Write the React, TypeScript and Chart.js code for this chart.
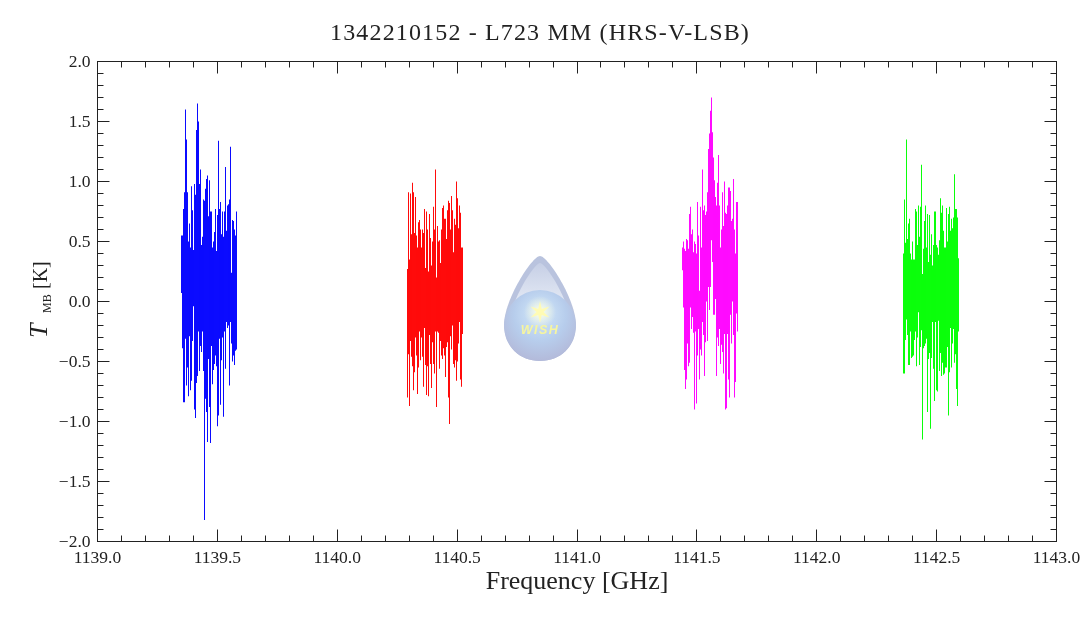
import { useEffect, useRef } from "react";
import { Chart, registerables } from "chart.js";

Chart.register(...registerables);

const chartTitle = "1342210152 - L723 MM (HRS-V-LSB)";
const xTitle = "Frequency [GHz]";
const xTickLabels = ["1139.0", "1139.5", "1140.0", "1140.5", "1141.0", "1141.5", "1142.0", "1142.5", "1143.0"];
const yTickLabels = ["2.0", "1.5", "1.0", "0.5", "0.0", "−0.5", "−1.0", "−1.5", "−2.0"];

// min/max of the spectrum in each plotted channel, in K
const blueFreq = [1139.35036, 1139.35454, 1139.35871, 1139.36288, 1139.36705, 1139.37122, 1139.37539, 1139.37956, 1139.38373, 1139.3879, 1139.39208, 1139.39625, 1139.40042, 1139.40459, 1139.40876, 1139.41293, 1139.4171, 1139.42127, 1139.42544, 1139.42961, 1139.43379, 1139.43796, 1139.44213, 1139.4463, 1139.45047, 1139.45464, 1139.45881, 1139.46298, 1139.46715, 1139.47132, 1139.4755, 1139.47967, 1139.48384, 1139.48801, 1139.49218, 1139.49635, 1139.50052, 1139.50469, 1139.50886, 1139.51303, 1139.51721, 1139.52138, 1139.52555, 1139.52972, 1139.53389, 1139.53806, 1139.54223, 1139.5464, 1139.55057, 1139.55474, 1139.55892, 1139.56309, 1139.56726, 1139.57143, 1139.5756, 1139.57977];
const blueHigh = [0.55, 0.55, 0.77, 0.91, 1.6, 1.35, 0.91, 0.5, 0.65, 0.45, 0.96, 0.76, 0.43, 0.98, 0.89, 1.43, 1.65, 1.5, 0.98, 1.1, 0.47, 0.54, 0.85, 0.84, 0.94, 1.02, 1.05, 0.71, 1.01, 0.75, 0.75, 0.45, 0.5, 0.58, 0.77, 0.42, 0.72, 1.34, 0.77, 0.83, 0.56, 0.75, 0.54, 0.75, 1.12, 0.59, 0.8, 0.81, 0.85, 1.29, 0.24, 0.68, 0.67, 0.6, 0.55, 0.75];
const blueLow = [0.07, -0.39, -0.84, -0.84, -0.31, -0.7, -0.55, -0.79, -0.29, -0.74, -0.66, -0.33, -0.04, -0.9, -0.97, -0.68, -0.62, -0.25, -0.58, -0.37, -0.42, -0.25, -0.58, -1.82, -0.81, -0.92, -1.17, -0.48, -0.88, -1.18, -0.37, -0.69, -0.57, -0.52, -0.45, -0.54, -1.04, -0.95, -0.31, -0.86, -0.49, -0.3, -0.96, -0.25, -0.56, -0.17, -0.22, -0.2, -0.7, -0.17, -0.35, -0.5, -0.45, -0.53, -0.41, -0.4];

const redFreq = [1140.29301, 1140.29718, 1140.30136, 1140.30553, 1140.3097, 1140.31387, 1140.31804, 1140.32221, 1140.32638, 1140.33055, 1140.33472, 1140.33889, 1140.34307, 1140.34724, 1140.35141, 1140.35558, 1140.35975, 1140.36392, 1140.36809, 1140.37226, 1140.37643, 1140.3806, 1140.38478, 1140.38895, 1140.39312, 1140.39729, 1140.40146, 1140.40563, 1140.4098, 1140.41397, 1140.41814, 1140.42231, 1140.42649, 1140.43066, 1140.43483, 1140.439, 1140.44317, 1140.44734, 1140.45151, 1140.45568, 1140.45985, 1140.46402, 1140.4682, 1140.47237, 1140.47654, 1140.48071, 1140.48488, 1140.48905, 1140.49322, 1140.49739, 1140.50156, 1140.50573, 1140.50991, 1140.51408, 1140.51825, 1140.52242];
const redHigh = [0.27, 0.91, 0.35, 0.9, 0.56, 0.99, 0.91, 0.57, 0.87, 0.55, 0.45, 0.66, 0.68, 0.6, 0.45, 0.6, 0.57, 0.77, 0.28, 0.75, 0.6, 0.25, 0.73, 0.53, 0.3, 0.5, 0.79, 0.6, 1.1, 0.2, 0.63, 0.5, 0.51, 0.32, 0.6, 0.78, 0.8, 0.69, 0.69, 0.52, 0.76, 0.84, 0.82, 0.6, 0.88, 0.76, 0.41, 0.69, 0.64, 1.0, 0.86, 0.61, 0.8, 0.74, 0.45, 0.45];
const redLow = [-0.8, -0.44, -0.87, -0.33, -0.46, -0.54, -0.74, -0.59, -0.3, -0.45, -0.77, -0.55, -0.25, -0.49, -0.3, -0.46, -0.71, -0.22, -0.53, -0.78, -0.54, -0.79, -0.28, -0.52, -0.72, -0.34, -0.52, -0.6, -0.25, -0.88, -0.25, -0.26, -0.56, -0.33, -0.45, -0.48, -0.39, -0.45, -0.63, -0.38, -0.34, -0.8, -1.02, -0.29, -0.4, -0.2, -0.52, -0.55, -0.49, -0.66, -0.5, -0.35, -0.17, -0.65, -0.71, -0.27];

const magentaFreq = [1141.44004, 1141.44421, 1141.44838, 1141.45255, 1141.45672, 1141.4609, 1141.46507, 1141.46924, 1141.47341, 1141.47758, 1141.48175, 1141.48592, 1141.49009, 1141.49426, 1141.49844, 1141.50261, 1141.50678, 1141.51095, 1141.51512, 1141.51929, 1141.52346, 1141.52763, 1141.5318, 1141.53597, 1141.54015, 1141.54432, 1141.54849, 1141.55266, 1141.55683, 1141.561, 1141.56517, 1141.56934, 1141.57351, 1141.57769, 1141.58186, 1141.58603, 1141.5902, 1141.59437, 1141.59854, 1141.60271, 1141.60688, 1141.61105, 1141.61522, 1141.6194, 1141.62357, 1141.62774, 1141.63191, 1141.63608, 1141.64025, 1141.64442, 1141.64859, 1141.65276, 1141.65693, 1141.66111, 1141.66528, 1141.66945];
const magentaHigh = [0.45, 0.5, 0.44, 0.42, 0.52, 0.51, 0.44, 0.73, 0.79, 0.56, 0.6, 0.41, 0.5, 0.48, 0.4, 0.83, 0.55, 0.09, 0.79, 0.45, 1.1, 0.76, 0.8, 0.72, 0.75, 0.91, 1.27, 1.4, 1.59, 1.7, 1.41, 1.2, 1.01, 0.87, 0.8, 0.99, 1.22, 0.8, 0.45, 0.6, 0.91, 0.63, 1.0, 0.74, 0.73, 0.8, 0.95, 0.95, 0.92, 0.67, 0.69, 1.02, 0.6, 0.4, 0.83, 0.83];
const magentaLow = [0.26, -0.05, -0.57, -0.73, -0.65, -0.35, -0.54, -0.51, -0.05, -0.23, -0.13, -0.26, -0.9, -0.25, -0.85, -0.45, -0.23, -0.65, -0.4, -0.45, -0.17, -0.28, -0.62, -0.34, 0.0, -0.33, 0.12, -0.07, 0.12, 0.51, 0.33, -0.11, -0.11, 0.02, -0.62, -0.3, -0.37, -0.23, -0.52, -0.36, -0.42, -0.6, -0.27, -0.9, -0.89, -0.27, -0.65, -0.8, -0.11, -0.35, 0.0, -0.28, -0.8, -0.67, -0.1, -0.25];

const greenFreq = [1142.36184, 1142.36601, 1142.37018, 1142.37435, 1142.37852, 1142.38269, 1142.38686, 1142.39103, 1142.3952, 1142.39937, 1142.40355, 1142.40772, 1142.41189, 1142.41606, 1142.42023, 1142.4244, 1142.42857, 1142.43274, 1142.43691, 1142.44108, 1142.44526, 1142.44943, 1142.4536, 1142.45777, 1142.46194, 1142.46611, 1142.47028, 1142.47445, 1142.47862, 1142.48279, 1142.48697, 1142.49114, 1142.49531, 1142.49948, 1142.50365, 1142.50782, 1142.51199, 1142.51616, 1142.52033, 1142.5245, 1142.52868, 1142.53285, 1142.53702, 1142.54119, 1142.54536, 1142.54953, 1142.5537, 1142.55787, 1142.56204, 1142.56621, 1142.57039, 1142.57456, 1142.57873, 1142.5829, 1142.58707, 1142.59124];
const greenHigh = [0.4, 0.85, 0.49, 1.35, 0.52, 0.65, 0.69, 0.4, 0.35, 0.5, 0.35, 0.35, 0.77, 0.75, 0.47, 0.8, 0.54, 0.79, 1.14, 0.23, 0.44, 0.67, 0.8, 0.45, 0.73, 0.33, 0.72, 0.39, 0.56, 0.3, 0.47, 0.75, 0.75, 0.47, 0.45, 0.39, 0.51, 0.86, 0.74, 0.8, 0.59, 0.45, 0.45, 0.78, 0.5, 0.73, 0.79, 0.59, 0.69, 0.61, 0.7, 1.06, 0.77, 0.77, 0.7, 0.36];
const greenLow = [-0.6, -0.6, -0.32, -0.15, -0.28, -0.53, -0.53, -0.25, -0.47, -0.46, -0.45, -0.32, -0.25, -0.54, -0.3, -0.09, -0.53, -0.38, -0.24, -1.15, -0.39, -0.37, -0.35, -0.31, -0.92, -0.48, -0.43, -1.06, -0.47, -0.17, -0.56, -0.83, -0.17, -0.74, -0.75, -0.16, -0.58, -0.43, -0.62, -0.51, -0.61, -0.6, -0.55, -0.55, -0.38, -0.95, -0.59, -0.22, -0.55, -0.35, -0.23, -0.51, -0.44, -0.73, -0.87, -0.25];

const INK = "#222222";
const SERIF = "'Liberation Serif', serif";

function band(freq: number[], low: number[], high: number[], color: string) {
  return {
    data: freq.map((f, i) => ({ x: f, y: [low[i], high[i]] })),
    backgroundColor: color,
    borderWidth: 0,
    grouped: false,
    barPercentage: 1.2,
    maxBarThickness: 1,
    inflateAmount: 0,
  };
}

function yLabel(v: number) {
  return v.toFixed(1).replace("-", "−");
}

// axis box and inward ticks on all four sides, plus the two titles that need
// letter spacing or mixed fonts
const framePlugin = {
  id: "frame",
  afterDraw(chart: any) {
    const { ctx, chartArea: a, scales } = chart;
    ctx.save();
    ctx.strokeStyle = INK;
    ctx.lineWidth = 1;
    ctx.strokeRect(a.left, a.top, a.right - a.left, a.bottom - a.top);
    ctx.beginPath();
    for (const t of scales.x.ticks) {
      const px = Math.round(scales.x.getPixelForValue(t.value) - 0.5) + 0.5;
      const len = xTickLabels.includes(t.value.toFixed(1)) ? 12 : 6;
      ctx.moveTo(px, a.bottom);
      ctx.lineTo(px, a.bottom - len);
      ctx.moveTo(px, a.top);
      ctx.lineTo(px, a.top + len);
    }
    for (const t of scales.y.ticks) {
      const py = Math.round(scales.y.getPixelForValue(t.value) - 0.5) + 0.5;
      const len = yTickLabels.includes(yLabel(t.value)) ? 12 : 6;
      ctx.moveTo(a.left, py);
      ctx.lineTo(a.left + len, py);
      ctx.moveTo(a.right, py);
      ctx.lineTo(a.right - len, py);
    }
    ctx.stroke();

    ctx.fillStyle = INK;
    ctx.textBaseline = "alphabetic";
    ctx.textAlign = "center";
    ctx.font = `24px ${SERIF}`;
    ctx.letterSpacing = "1.15px";
    ctx.fillText(chartTitle, 540, 40);
    ctx.letterSpacing = "0px";
    ctx.textAlign = "left";

    ctx.translate(38, 338);
    ctx.rotate(-Math.PI / 2);
    ctx.font = `italic 26px ${SERIF}`;
    ctx.fillText("T", 0, 9);
    ctx.font = `12px ${SERIF}`;
    ctx.fillText("MB", 25, 13);
    ctx.font = `20px ${SERIF}`;
    ctx.fillText("[K]", 49, 9);
    ctx.restore();
  },
};

function dropPath(ctx: CanvasRenderingContext2D) {
  ctx.beginPath();
  ctx.moveTo(540, 256);
  ctx.bezierCurveTo(548, 256, 576, 300, 576, 325);
  ctx.bezierCurveTo(576, 347, 560, 361, 540, 361);
  ctx.bezierCurveTo(520, 361, 504, 347, 504, 325);
  ctx.bezierCurveTo(504, 300, 532, 256, 540, 256);
  ctx.closePath();
}

// WISH water drop emblem
const logoPlugin = {
  id: "logo",
  beforeDatasetsDraw(chart: any) {
    const ctx: CanvasRenderingContext2D = chart.ctx;
    ctx.save();
    dropPath(ctx);
    ctx.fillStyle = "#b9c3de";
    ctx.fill();
    ctx.clip();

    const upper = ctx.createLinearGradient(0, 262, 0, 310);
    upper.addColorStop(0, "#c5cee5");
    upper.addColorStop(1, "#e9eef7");
    ctx.beginPath();
    ctx.moveTo(540, 263);
    ctx.bezierCurveTo(546, 263, 570, 302, 570, 322);
    ctx.lineTo(510, 322);
    ctx.bezierCurveTo(510, 302, 534, 263, 540, 263);
    ctx.fillStyle = upper;
    ctx.fill();

    const sphere = ctx.createRadialGradient(540, 312, 4, 540, 318, 44);
    sphere.addColorStop(0, "#cfe5f8");
    sphere.addColorStop(0.55, "#b7cdec");
    sphere.addColorStop(1, "#b3b9d9");
    ctx.beginPath();
    ctx.arc(540, 326, 36, 0, Math.PI * 2);
    ctx.fillStyle = sphere;
    ctx.fill();

    const glow = ctx.createRadialGradient(540, 312, 1, 540, 312, 16);
    glow.addColorStop(0, "rgba(255,255,225,0.9)");
    glow.addColorStop(1, "rgba(255,255,225,0)");
    ctx.fillStyle = glow;
    ctx.fillRect(524, 296, 32, 32);

    ctx.beginPath();
    for (let i = 0; i < 12; i++) {
      const r = i % 2 === 0 ? 11 : 3.5;
      const ang = (i * Math.PI) / 6 - Math.PI / 2;
      ctx.lineTo(540 + r * Math.cos(ang), 312 + r * Math.sin(ang));
    }
    ctx.closePath();
    ctx.fillStyle = "#fffbb4";
    ctx.fill();

    ctx.font = "italic bold 12.5px 'Liberation Sans', sans-serif";
    (ctx as any).letterSpacing = "1.5px";
    ctx.textAlign = "center";
    ctx.textBaseline = "middle";
    ctx.fillStyle = "#f6f5a0";
    ctx.fillText("WISH", 540, 331);
    ctx.restore();
  },
};

export default function App() {
  const canvasRef = useRef<HTMLCanvasElement>(null);

  useEffect(() => {
    if (!canvasRef.current) return;

    const chart = new Chart(canvasRef.current, {
      type: "bar",
      data: {
        datasets: [
          band(blueFreq, blueLow, blueHigh, "#0000ff"),
          band(redFreq, redLow, redHigh, "#ff0000"),
          band(magentaFreq, magentaLow, magentaHigh, "#ff00ff"),
          band(greenFreq, greenLow, greenHigh, "#00ff00"),
        ] as any,
      },
      options: {
        responsive: false,
        animation: false,
        devicePixelRatio: 1,
        layout: { padding: { left: 0, right: 23.5, top: 61.5, bottom: 0 } },
        plugins: {
          legend: { display: false },
          tooltip: { enabled: false },
        },
        scales: {
          x: {
            type: "linear",
            offset: false,
            min: 1139,
            max: 1143,
            grid: { display: false, drawTicks: false },
            border: { display: false },
            afterFit(scale: any) {
              scale.height = 76.5;
              scale.paddingLeft = 0;
              scale.paddingRight = 0;
            },
            ticks: {
              stepSize: 0.1,
              autoSkip: false,
              maxRotation: 0,
              padding: 6,
              color: INK,
              font: { family: SERIF, size: 17.5 },
              callback: (v: any) => (xTickLabels.includes(Number(v).toFixed(1)) ? Number(v).toFixed(1) : ""),
            },
            title: {
              display: true,
              text: xTitle,
              color: INK,
              font: { family: SERIF, size: 26 },
              padding: { top: 0, bottom: 20 },
            },
          },
          y: {
            type: "linear",
            min: -2,
            max: 2,
            grid: { display: false, drawTicks: false },
            border: { display: false },
            afterFit(scale: any) {
              scale.width = 97.5;
              scale.paddingTop = 0;
              scale.paddingBottom = 0;
            },
            ticks: {
              stepSize: 0.1,
              autoSkip: false,
              padding: 7,
              labelOffset: 1,
              color: INK,
              font: { family: SERIF, size: 17.5 },
              callback: (v: any) => (yTickLabels.includes(yLabel(Number(v))) ? yLabel(Number(v)) : ""),
            },
          },
        },
      },
      plugins: [logoPlugin, framePlugin],
    } as any);

    return () => chart.destroy();
  }, []);

  return (
    <div style={{ position: "absolute", left: 0, top: 0, width: 1080, height: 618 }}>
      <canvas ref={canvasRef} width={1080} height={618} style={{ display: "block" }} />
    </div>
  );
}
